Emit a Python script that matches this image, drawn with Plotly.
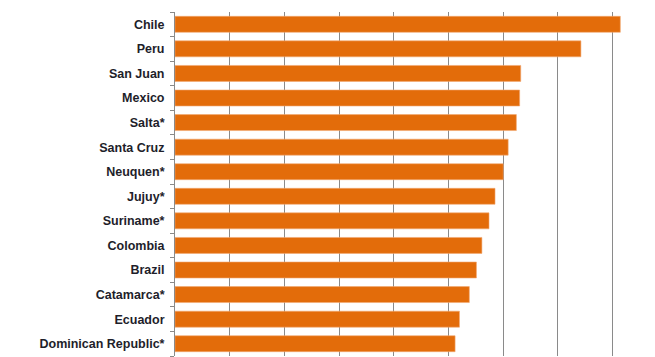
import plotly.graph_objects as go

categories = ["Chile", "Peru", "San Juan", "Mexico", "Salta*", "Santa Cruz", "Neuquen*",
              "Jujuy*", "Suriname*", "Colombia", "Brazil", "Catamarca*", "Ecuador",
              "Dominican Republic*"]
values = [8.14, 7.42, 6.32, 6.30, 6.24, 6.09, 6.00, 5.85, 5.74, 5.61, 5.51, 5.38, 5.20, 5.12]

fig = go.Figure(go.Bar(
    x=values, y=categories, orientation="h",
    marker=dict(color="#E36C0A", line=dict(color="#F2A872", width=0.6)),
    width=0.65,
    hoverinfo="skip",
))

fig.update_layout(
    width=655, height=357,
    margin=dict(l=175, r=15, t=12, b=1),
    plot_bgcolor="white", paper_bgcolor="white",
    showlegend=False,
    font=dict(family="Liberation Sans, Arial, sans-serif", size=12, color="#1e1e2a"),
)
fig.update_xaxes(
    range=[0, 8.5], dtick=1, tick0=0, showticklabels=False,
    showgrid=True, gridcolor="#8a8a8a", gridwidth=1, zeroline=False,
    showline=False, ticks="", automargin=False,
)
fig.update_yaxes(
    categoryorder="array", categoryarray=categories[::-1],
    autorange=False, range=[-0.5, len(categories) - 0.5],
    showline=True, linecolor="#8a8a8a", linewidth=1,
    ticks="outside", ticklen=4, tickcolor="#8a8a8a", tickson="boundaries",
    ticklabelstandoff=7, automargin=False,
    tickfont=dict(family="Liberation Sans, Arial, sans-serif", size=12.5, color="#1e1e2a", weight="bold"),
    showgrid=False,
)

fig.write_html("out.html", config={"displayModeBar": False},
               post_script="document.body.style.margin='0';document.body.style.overflow='hidden';")
